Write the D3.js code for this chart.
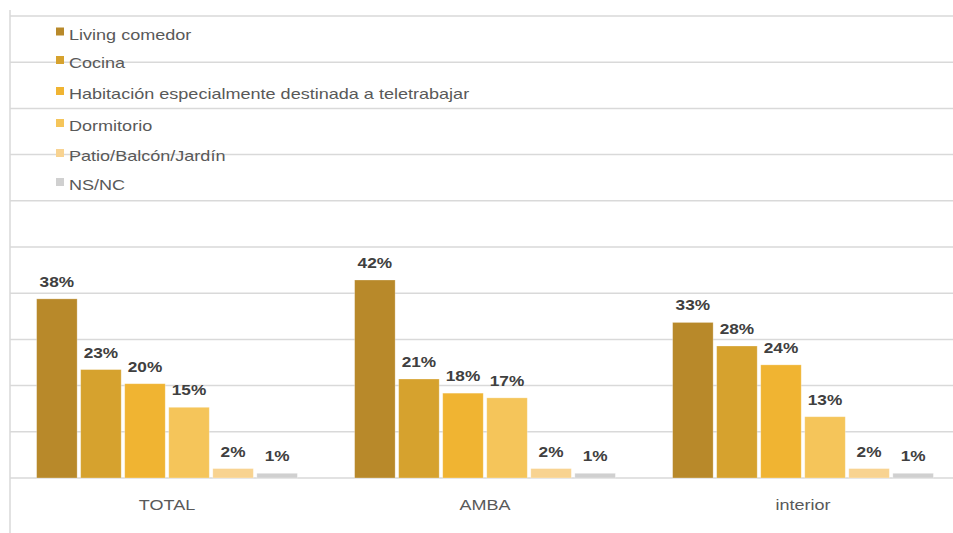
<!DOCTYPE html>
<html>
<head>
<meta charset="utf-8">
<script src="https://cdn.jsdelivr.net/npm/d3@7"></script>
<style>
  html, body { margin: 0; padding: 0; background: #fff; }
  svg { display: block; }
</style>
</head>
<body>
<svg id="chart" width="953" height="533"></svg>
<script>
const categories = ["TOTAL", "AMBA", "interior"];
const seriesNames = ["Living comedor", "Cocina", "Habitación especialmente destinada a teletrabajar", "Dormitorio", "Patio/Balcón/Jardín", "NS/NC"];
const livingComedor = [38, 42, 33];
const cocina = [23, 21, 28];
const habitacion = [20, 18, 24];
const dormitorio = [15, 17, 13];
const patio = [2, 2, 2];
const nsnc = [1, 1, 1];
const seriesColors = ["#B8892A", "#D6A22E", "#F0B432", "#F5C55A", "#F8D391", "#D0D0D0"];

const seriesValues = [livingComedor, cocina, habitacion, dormitorio, patio, nsnc];

const svg = d3.select("#chart");
const W = 953, H = 533;
const baseY = 478, topY = 16;
const sx = 1.29;

const y = d3.scaleLinear().domain([0, 98]).range([baseY, topY]);
const x0 = d3.scaleBand().domain(categories).range([8, 962]).paddingInner(0.18).paddingOuter(0.09);
const x1 = d3.scaleBand().domain(seriesNames).range([0, x0.bandwidth()]).paddingInner(0.08);

// gridlines
const gridVals = d3.range(0, 11).map(i => i * 9.8);
svg.append("g").selectAll("line").data(gridVals).join("line")
  .attr("x1", 10).attr("x2", W)
  .attr("y1", d => y(d)).attr("y2", d => y(d))
  .attr("stroke", "#d9d9d9").attr("stroke-width", 1.5);

// vertical axis line
svg.append("line").attr("x1", 10).attr("x2", 10).attr("y1", 10).attr("y2", H)
  .attr("stroke", "#d9d9d9").attr("stroke-width", 1.5);

// bars
const groups = svg.append("g").selectAll("g").data(categories).join("g")
  .attr("transform", d => `translate(${x0(d)},0)`);

groups.each(function(cat, ci) {
  const g = d3.select(this);
  const rows = seriesNames.map((s, si) => ({ s, si, v: seriesValues[si][ci] }));
  g.selectAll("rect").data(rows).join("rect")
    .attr("x", d => x1(d.s))
    .attr("y", d => y(d.v))
    .attr("width", x1.bandwidth())
    .attr("height", d => baseY - y(d.v))
    .attr("fill", d => seriesColors[d.si])
    .attr("stroke", "#ffffff").attr("stroke-opacity", 0.35).attr("stroke-width", 0.8);
  g.selectAll("text").data(rows).join("text")
    .attr("transform", d => `translate(${x1(d.s) + x1.bandwidth() / 2},${y(d.v) - 12}) scale(1.15,1)`)
    .attr("text-anchor", "middle")
    .attr("font-family", "Liberation Sans, Arial, sans-serif")
    .attr("font-weight", "bold")
    .attr("font-size", 15)
    .attr("fill", "#404040")
    .text(d => d.v + "%");
});

// category labels
svg.append("g").selectAll("text").data(categories).join("text")
  .attr("transform", d => `translate(${x0(d) + x0.bandwidth() / 2},510) scale(1.2,1)`)
  .attr("text-anchor", "middle")
  .attr("font-family", "Liberation Sans, Arial, sans-serif")
  .attr("font-size", 15)
  .attr("fill", "#595959")
  .text(d => d);

// legend
const legendBaselines = [39.5, 68, 99, 131, 161, 190];
const leg = svg.append("g").selectAll("g").data(seriesNames).join("g")
  .attr("transform", (d, i) => `translate(56,${legendBaselines[i]})`);
leg.append("rect").attr("x", 0).attr("y", -12).attr("width", 8).attr("height", 8)
  .attr("fill", (d, i) => seriesColors[i]);
leg.append("text")
  .attr("transform", `translate(13,0) scale(${sx},1)`)
  .attr("font-family", "Liberation Sans, Arial, sans-serif")
  .attr("font-size", 14)
  .attr("fill", "#595959")
  .text(d => d);
</script>
</body>
</html>
